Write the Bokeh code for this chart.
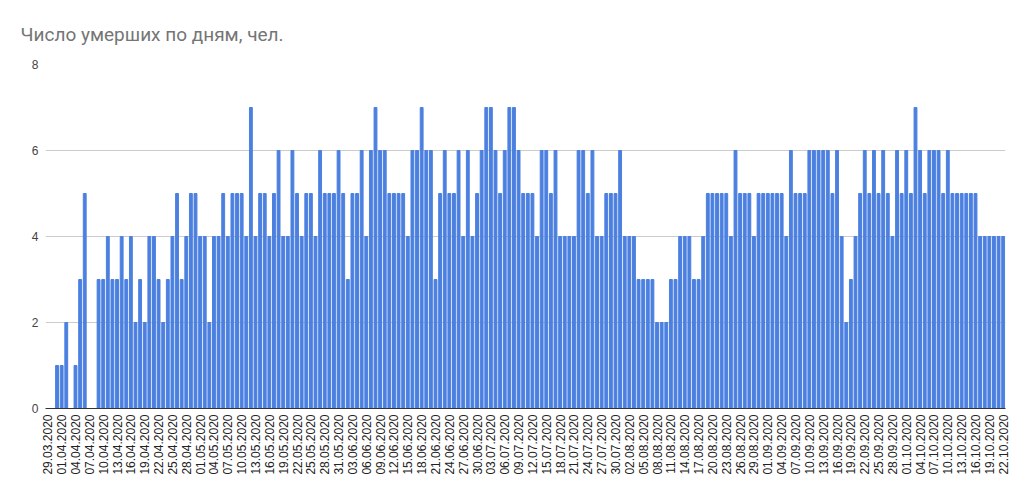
import math
import pandas as pd
from bokeh.plotting import figure
from bokeh.models import Range1d, FixedTicker
from bokeh.embed import file_html
from bokeh.resources import INLINE

# Dates (categories)
dates = [d.strftime("%d.%m.%Y") for d in pd.date_range("2020-03-29", "2020-10-22", freq="D")]

# Deaths per day
deaths = [
    0, 0, 1, 1, 2, 0, 1, 3, 5, 0, 0, 3, 3, 4, 3, 3,
    4, 3, 4, 2, 3, 2, 4, 4, 3, 2, 3, 4, 5, 3, 4, 5, 5, 4, 4, 2,
    4, 4, 5, 4, 5, 5, 5, 4, 7, 4, 5, 5, 4, 5, 6, 4, 4, 6, 5,
    4, 5, 5, 4, 6, 5, 5, 5, 6, 5, 3, 5, 5, 6, 4, 6, 7, 6, 6, 5,
    5, 5, 5, 4, 6, 6, 7, 6, 6, 3, 5, 6, 5, 5, 6, 4, 6, 4, 5,
    6, 7, 7, 6, 5, 6, 7, 7, 6, 5, 5, 5, 4, 6, 6, 5, 6, 4, 4, 4, 4,
    6, 6, 5, 6, 4, 4, 5, 5, 5, 6, 4, 4, 4, 3, 3, 3, 3, 2, 2, 2,
    3, 3, 4, 4, 4, 3, 3, 4, 5, 5, 5, 5, 5, 4, 6, 5, 5, 5,
    4, 5, 5, 5, 5, 5, 5, 4, 6, 5, 5, 5, 6, 6, 6, 6, 6, 5, 6,
    4, 2, 3, 4, 5, 6, 5, 6, 5, 6, 5, 4, 6, 5, 6, 5, 7, 6, 5, 6,
    6, 6, 5, 6, 5, 5, 5, 5, 5, 5, 4, 4, 4, 4, 4, 4,
]

title_text = "Число умерших по дням, чел."

# Tick labels: every third date
tick_positions = list(range(0, len(dates), 3))
tick_labels = {i: dates[i] for i in tick_positions}
y_ticks = [0, 2, 4, 6, 8]

day_index = list(range(len(dates)))

p = figure(
    x_range=Range1d(-0.5, len(dates) - 0.5),
    y_range=Range1d(0, 8),
    width=1025, height=497,
    output_backend="svg", toolbar_location=None,
    min_border_left=45, min_border_right=20,
    min_border_top=64, min_border_bottom=89,
    background_fill_color="white", border_fill_color="white",
)

p.vbar(x=day_index, top=deaths, width=0.62, color="#4c80e0")

p.title.text = title_text
p.title.text_font = "Roboto"
p.title.text_font_size = "19px"
p.title.text_font_style = "normal"
p.title.text_color = "#757575"
p.title.offset = -25
p.title.standoff = 38

p.xaxis.ticker = FixedTicker(ticks=tick_positions)
p.xaxis.major_label_overrides = tick_labels
p.xaxis.major_label_orientation = math.pi / 2
p.xaxis.major_tick_line_color = None
p.xaxis.major_tick_out = 0
p.xaxis.major_tick_in = 0
p.xaxis.minor_tick_line_color = None
p.xaxis.axis_line_color = "#333333"
p.xaxis.major_label_text_font = "Liberation Sans"
p.xaxis.major_label_text_font_size = "12px"
p.xaxis.major_label_text_color = "#222222"
p.xaxis.major_label_standoff = 6

p.yaxis.ticker = FixedTicker(ticks=y_ticks)
p.yaxis.axis_line_color = None
p.yaxis.major_tick_line_color = None
p.yaxis.major_tick_out = 0
p.yaxis.major_tick_in = 0
p.yaxis.minor_tick_line_color = None
p.yaxis.major_label_text_font = "Liberation Sans"
p.yaxis.major_label_text_font_size = "12px"
p.yaxis.major_label_text_color = "#444444"
p.yaxis.major_label_standoff = 7

p.ygrid.grid_line_color = "#cccccc"
p.xgrid.grid_line_color = None
p.outline_line_color = None

open("out.html", "w").write(file_html(p, INLINE))
